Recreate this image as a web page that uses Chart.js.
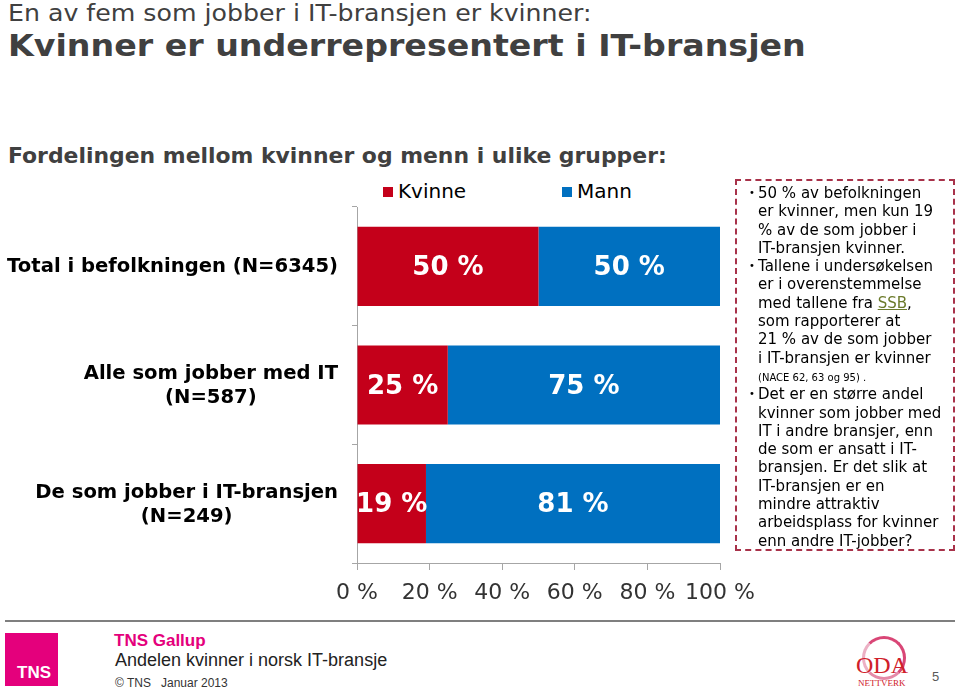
<!DOCTYPE html>
<html lang="no">
<head>
<meta charset="utf-8">
<title>Kvinner er underrepresentert i IT-bransjen</title>
<script src="https://cdn.jsdelivr.net/npm/chart.js@4/dist/chart.umd.min.js"></script>
<style>
  html, body { margin: 0; padding: 0; background: #fff; }
  body { width: 960px; height: 692px; position: relative; overflow: hidden; font-family: "DejaVu Sans", Verdana, sans-serif; color: #404040; }
  .abs { position: absolute; white-space: nowrap; }
  #t1 { left: 8px; top: 2px; font-size: 23px; line-height: 22px; transform: scaleX(1.097); transform-origin: 0 0; }
  #t2 { left: 8px; top: 31px; font-size: 30px; line-height: 29px; font-weight: bold; transform: scaleX(1.108); transform-origin: 0 0; }
  #t3 { left: 8px; top: 146px; font-size: 21px; line-height: 20px; font-weight: bold; transform: scaleX(1.043); transform-origin: 0 0; }
  .leg { top: 181px; font-size: 20px; line-height: 20px; color: #000; }
  .leg i { display: inline-block; width: 10px; height: 10px; margin-right: 5px; vertical-align: 1px; }
  #wrap { position: absolute; left: 0; top: 200px; width: 800px; height: 420px; }
  #box { position: absolute; left: 735px; top: 179px; width: 216px; height: 368px; border: 2px dashed #a8324a; }
  #box .p { position: relative; padding-left: 21px; font-size: 15px; line-height: 18.3px; color: #000; white-space: nowrap; }
  #box .p .dot { position: absolute; left: 12px; top: 0; font-size: 10px; }
  #box .small { font-size: 10px; line-height: 14px; }
  #box a { color: #6b7a2a; text-decoration: underline; }
  #rule { position: absolute; left: 5px; top: 620px; width: 950px; height: 2px; background: #7f7f7f; }
  #tns { position: absolute; left: 5px; top: 633px; width: 53px; height: 53px; background: #e4007c; }
  #tns span { position: absolute; left: 12px; bottom: 3px; color: #fff; font: bold 17px "Liberation Sans", Arial, sans-serif; }
  #gallup { left: 114px; top: 632px; font: bold 17px/17px "Liberation Sans", Arial, sans-serif; color: #e4007c; }
  #andel { left: 115px; top: 651px; font: 18px/18px "Liberation Sans", Arial, sans-serif; color: #222; }
  #copy { left: 115px; top: 677px; font: 12px/12px "Liberation Sans", Arial, sans-serif; color: #333; }
  #ring { position: absolute; left: 862px; top: 636px; width: 38px; height: 38px; border-radius: 50%; border: 3px solid #d94676; border-left-color: #ecb0c4; border-bottom-color: #e58aa8; }
  #oda { left: 856px; top: 653px; font: 24px/24px "Liberation Serif", "Times New Roman", serif; color: #d0202a; }
  #nett { left: 858px; top: 679px; font: 9px/9px "Liberation Serif", "Times New Roman", serif; color: #d0202a; }
  #page { left: 932px; top: 670px; font: 13px/13px "Liberation Sans", Arial, sans-serif; color: #595959; }
</style>
</head>
<body>
<div class="abs" id="t1">En av fem som jobber i IT-bransjen er kvinner:</div>
<div class="abs" id="t2">Kvinner er underrepresentert i IT-bransjen</div>
<div class="abs" id="t3">Fordelingen mellom kvinner og menn i ulike grupper:</div>

<div class="abs leg" style="left:383px"><i style="background:#c4001a"></i>Kvinne</div>
<div class="abs leg" style="left:562px"><i style="background:#0070c0"></i>Mann</div>

<div id="wrap"><canvas id="chart"></canvas></div>

<div id="box">
  <div style="height:3px"></div>
  <div class="p"><span class="dot">•</span>50 % av befolkningen<br>er kvinner, men kun 19<br>% av de som jobber i<br>IT-bransjen kvinner.</div>
  <div class="p"><span class="dot">•</span>Tallene i undersøkelsen<br>er i overenstemmelse<br>med tallene fra <a>SSB</a>,<br>som rapporterer at<br>21 % av de som jobber<br>i IT-bransjen er kvinner<br><span class="small">(NACE 62, 63 og 95) .</span></div>
  <div class="p"><span class="dot">•</span>Det er en større andel<br>kvinner som jobber med<br>IT i andre bransjer, enn<br>de som er ansatt i IT-<br>bransjen. Er det slik at<br>IT-bransjen er en<br>mindre attraktiv<br>arbeidsplass for kvinner<br>enn andre IT-jobber?</div>
</div>

<div id="rule"></div>
<div id="tns"><span>TNS</span></div>
<div class="abs" id="gallup">TNS Gallup</div>
<div class="abs" id="andel">Andelen kvinner i norsk IT-bransje</div>
<div class="abs" id="copy">© TNS &nbsp; Januar 2013</div>
<div id="ring"></div>
<div class="abs" id="oda">ODA</div>
<div class="abs" id="nett">NETTVERK</div>
<div class="abs" id="page">5</div>

<script>
// grupper (y-akse), flere linjer per etikett
const categories = [
    ['Total i befolkningen (N=6345)'],
    ['Alle som jobber med IT', '(N=587)'],
    ['De som jobber i IT-bransjen', '(N=249)']
];
const kvinneValues = [50, 25, 19];
const mannValues = [50, 75, 81];
const seriesNames = ['Kvinne', 'Mann'];
const xMin = 0;
const xMax = 100;
const xStep = 20;

const RED = '#c4001a';
const BLUE = '#0070c0';
const AXIS = '#a6a6a6';

// Etiketter på y-aksen: høyrejustert blokk, linjene sentrert innbyrdes
const groupLabels = {
    id: 'groupLabels',
    afterDraw(chart) {
        const ctx = chart.ctx;
        const yScale = chart.scales.y;
        const right = chart.chartArea.left - 19;
        const lineH = 24;
        ctx.save();
        ctx.font = 'bold 19.6px "DejaVu Sans", Verdana, sans-serif';
        ctx.fillStyle = '#000';
        ctx.textAlign = 'center';
        ctx.textBaseline = 'middle';
        chart.data.labels.forEach((lines, i) => {
            const y = yScale.getPixelForValue(i);
            const w = Math.max(...lines.map(l => ctx.measureText(l).width));
            const cx = right - w / 2;
            const y0 = y - (lines.length - 1) * lineH / 2;
            lines.forEach((l, k) => ctx.fillText(l, cx, y0 + k * lineH + 1));
        });
        ctx.restore();
    }
};

// Verdier inne i stolpene
const barValues = {
    id: 'barValues',
    afterDatasetsDraw(chart) {
        const ctx = chart.ctx;
        ctx.save();
        ctx.font = 'bold 26px "DejaVu Sans", Verdana, sans-serif';
        ctx.fillStyle = '#fff';
        ctx.textAlign = 'center';
        ctx.textBaseline = 'middle';
        chart.data.datasets.forEach((ds, di) => {
            chart.getDatasetMeta(di).data.forEach((el, i) => {
                const p = el.getProps(['x', 'y', 'base'], true);
                ctx.fillText(ds.data[i] + ' %', (p.x + p.base) / 2, p.y + 2);
            });
        });
        ctx.restore();
    }
};

new Chart(document.getElementById('chart'), {
    type: 'bar',
    data: {
        labels: categories,
        datasets: [
            { label: seriesNames[0], data: kvinneValues, backgroundColor: RED, categoryPercentage: 1, barPercentage: 0.667 },
            { label: seriesNames[1], data: mannValues, backgroundColor: BLUE, categoryPercentage: 1, barPercentage: 0.667 }
        ]
    },
    options: {
        indexAxis: 'y',
        responsive: true,
        maintainAspectRatio: false,
        animation: false,
        layout: { padding: { top: 7, right: 80, bottom: 0, left: 0 } },
        plugins: {
            legend: { display: false },
            tooltip: { enabled: false }
        },
        scales: {
            x: {
                stacked: true,
                min: xMin,
                max: xMax,
                grid: { drawOnChartArea: false, drawTicks: true, tickLength: 7, color: AXIS },
                border: { display: true, color: AXIS },
                ticks: {
                    stepSize: xStep,
                    padding: 10,
                    maxRotation: 0,
                    minRotation: 0,
                    autoSkip: false,
                    color: '#333',
                    font: { family: '"DejaVu Sans", Verdana, sans-serif', size: 22 },
                    callback: (v) => v + ' %'
                },
                afterFit: (s) => { s.height = 57; }
            },
            y: {
                stacked: true,
                grid: { drawOnChartArea: false, drawTicks: true, tickLength: 5, color: AXIS },
                border: { display: true, color: AXIS },
                ticks: { display: false },
                afterFit: (s) => { s.width = 357; }
            }
        }
    },
    plugins: [groupLabels, barValues]
});
</script>
</body>
</html>
